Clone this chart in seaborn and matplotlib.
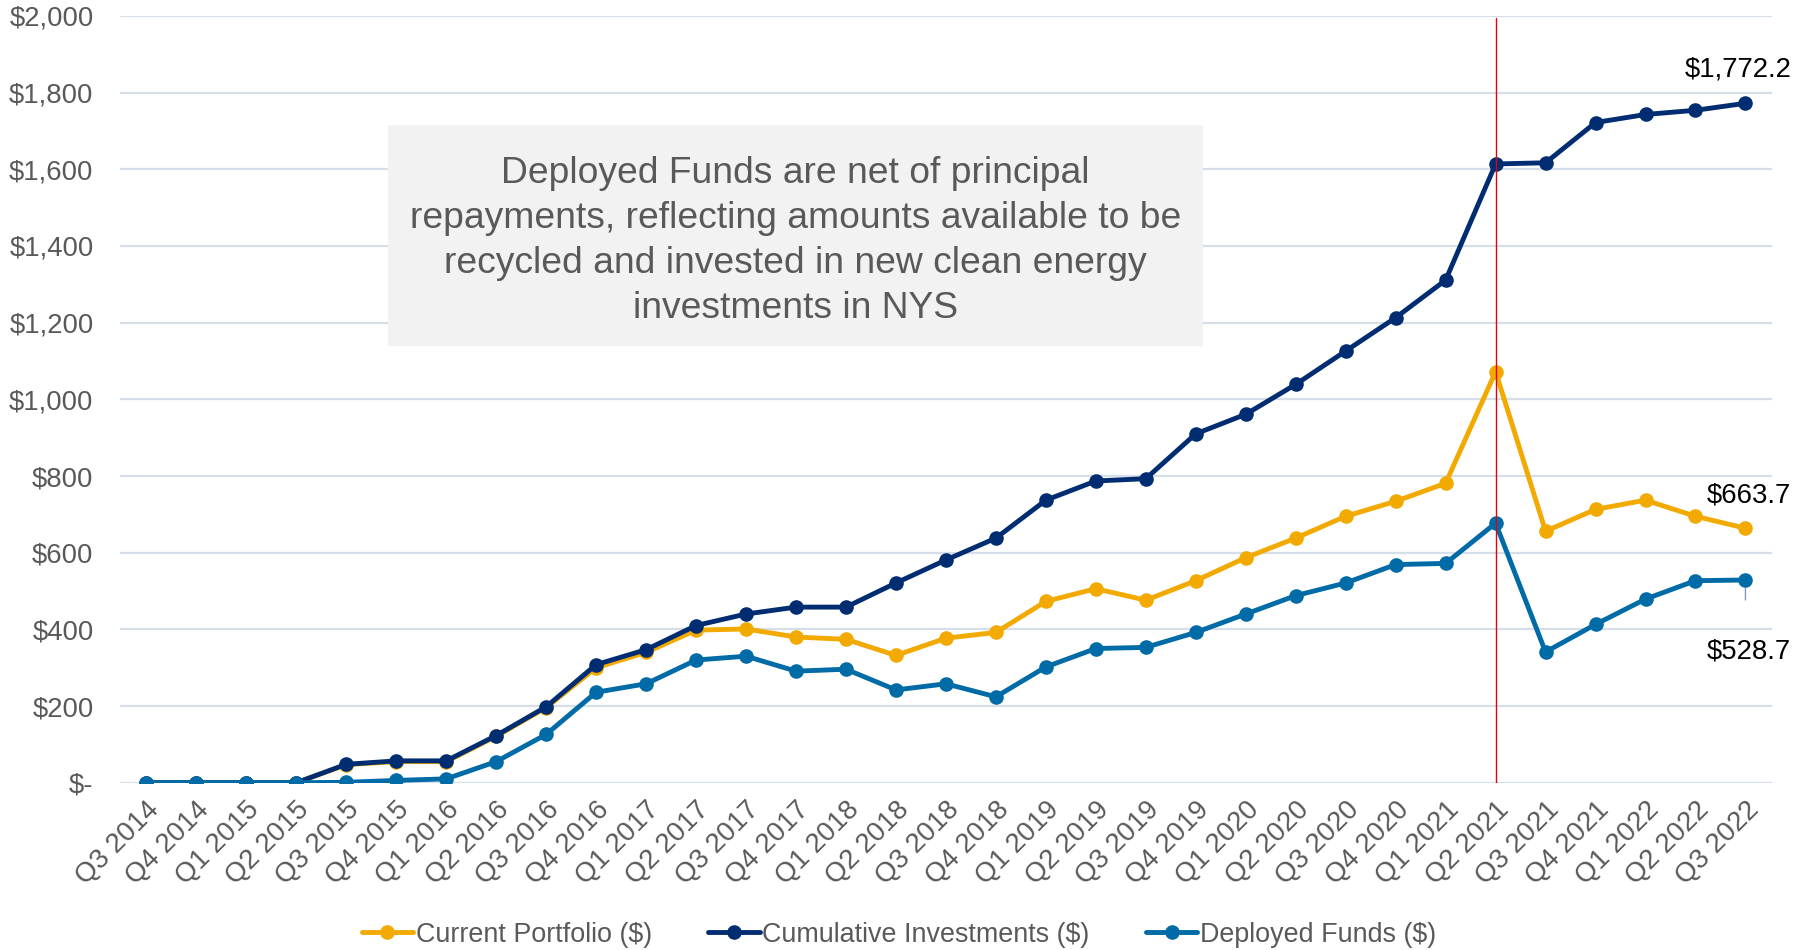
import matplotlib
matplotlib.use("Agg")
import matplotlib.pyplot as plt
import seaborn as sns
import pandas as pd
import numpy as np
from matplotlib.lines import Line2D
from matplotlib.patches import Rectangle

quarters = ["Q3 2014", "Q4 2014", "Q1 2015", "Q2 2015", "Q3 2015", "Q4 2015",
            "Q1 2016", "Q2 2016", "Q3 2016", "Q4 2016", "Q1 2017", "Q2 2017",
            "Q3 2017", "Q4 2017", "Q1 2018", "Q2 2018", "Q3 2018", "Q4 2018",
            "Q1 2019", "Q2 2019", "Q3 2019", "Q4 2019", "Q1 2020", "Q2 2020",
            "Q3 2020", "Q4 2020", "Q1 2021", "Q2 2021", "Q3 2021", "Q4 2021",
            "Q1 2022", "Q2 2022", "Q3 2022"]

current_portfolio = [0, 0, 0, 0, 47, 55, 55, 121, 196, 300, 340, 398,
                     401, 380, 374, 332, 377, 392, 473, 506, 476, 527,
                     587, 638, 695, 734, 781, 1072, 656, 713, 737, 695, 663.7]

cumulative_investments = [0, 0, 0, 0, 48, 57, 57, 123, 198, 308, 347, 410,
                          440, 458, 458, 521, 581, 638, 737, 787, 793, 910,
                          961, 1039, 1126, 1213, 1311, 1614, 1617, 1722, 1743,
                          1754, 1772.2]

deployed_funds = [0, 0, 0, 0, 1, 6, 10, 55, 126, 236, 258, 320,
                  330, 291, 296, 242, 258, 224, 302, 350, 353, 392,
                  440, 488, 521, 569, 572, 677, 341, 413, 479, 527, 528.7]

series_names = ["Current Portfolio ($)", "Cumulative Investments ($)", "Deployed Funds ($)"]
series_colors = ["#F2A900", "#002D72", "#006BA6"]
y_ticks = [0, 200, 400, 600, 800, 1000, 1200, 1400, 1600, 1800, 2000]
y_tick_labels = ["$-", "$200", "$400", "$600", "$800", "$1,000", "$1,200",
                 "$1,400", "$1,600", "$1,800", "$2,000"]
marker_quarter = "Q2 2021"
note_text = ("Deployed Funds are net of principal\n"
             "repayments, reflecting amounts available to be\n"
             "recycled and invested in new clean energy\n"
             "investments in NYS")

sns.set_theme(style="white")
plt.rcParams['font.family'] = ['Liberation Sans', 'DejaVu Sans']

gray = "#595959"
fs = 19.8
fig = plt.figure(figsize=(17.98, 9.5), dpi=100)
ax = fig.add_axes([0.0667, 0.1761, 0.9188, 0.8071])

x = np.arange(len(quarters))
all_series = [current_portfolio, cumulative_investments, deployed_funds]
for name, vals, col in zip(series_names, all_series, series_colors):
    df = pd.DataFrame({"x": x, "y": vals})
    sns.lineplot(data=df, x="x", y="y", ax=ax, color=col, linewidth=3.5,
                 marker="o", markersize=10.5, markeredgewidth=0,
                 markeredgecolor=col, zorder=3, legend=False)

ax.set_xlim(-0.53, len(quarters) - 0.47)
ax.set_ylim(0, 2000)
ax.set_yticks(y_ticks)
ax.set_yticklabels(y_tick_labels, fontsize=fs, color=gray)
ax.set_xticks(x)
ax.set_xticklabels(quarters, rotation=45, ha="right", rotation_mode="anchor",
                   fontsize=fs, color=gray)
ax.tick_params(axis="x", length=0, pad=10)
ax.tick_params(axis="y", length=0, pad=19)
ax.set_xlabel("")
ax.set_ylabel("")
for s in ax.spines.values():
    s.set_visible(False)
ax.grid(axis="y", color="#D6DEE9", linewidth=1.6, zorder=0)
ax.grid(axis="x", visible=False)
ax.set_axisbelow(True)

# vertical marker line
qi = quarters.index(marker_quarter)
ax.axvline(qi, ymin=0.0, ymax=0.997, color="#E3000F", linewidth=1.0, zorder=4)

# note box
ax.add_patch(Rectangle((0.1622, 0.5696), 0.4934, 0.2882, transform=ax.transAxes,
                       facecolor="#F2F2F2", edgecolor="none", zorder=5))
ax.text(0.4089, 0.7060, note_text, transform=ax.transAxes, ha="center",
        va="center", fontsize=26.8, color=gray, linespacing=1.37, zorder=6)

# data labels
last = len(quarters) - 1
ax.annotate(f"${cumulative_investments[-1]:,.1f}", (last, cumulative_investments[-1]),
            xytext=(-7, 34), textcoords="offset pixels", ha="center", va="center",
            fontsize=fs, color="black", zorder=7)
ax.annotate(f"${current_portfolio[-1]:,.1f}", (last, current_portfolio[-1]),
            xytext=(3, 33), textcoords="offset pixels", ha="center", va="center",
            fontsize=fs, color="black", zorder=7)
ax.annotate(f"${deployed_funds[-1]:,.1f}", (last, deployed_funds[-1]),
            xytext=(3, -71), textcoords="offset pixels", ha="center", va="center",
            fontsize=fs, color="black", zorder=7)
ax.annotate("", xy=(last, deployed_funds[-1]), xytext=(0, -20),
            textcoords="offset pixels",
            arrowprops=dict(arrowstyle="-", color="#7F9FBF", lw=1.0,
                            shrinkA=0, shrinkB=6), zorder=2)

handles = [Line2D([0], [0], color=c, linewidth=3.5, marker="o", markersize=10.5,
                  markeredgewidth=0) for c in series_colors]
leg = fig.legend(handles, series_names, loc="center", bbox_to_anchor=(0.5, 0.016),
                 ncol=3, frameon=False, fontsize=19.4, handlelength=1.9,
                 handletextpad=0.1, columnspacing=2.1)
for t in leg.get_texts():
    t.set_color(gray)

fig.savefig("out.png", dpi=100)
